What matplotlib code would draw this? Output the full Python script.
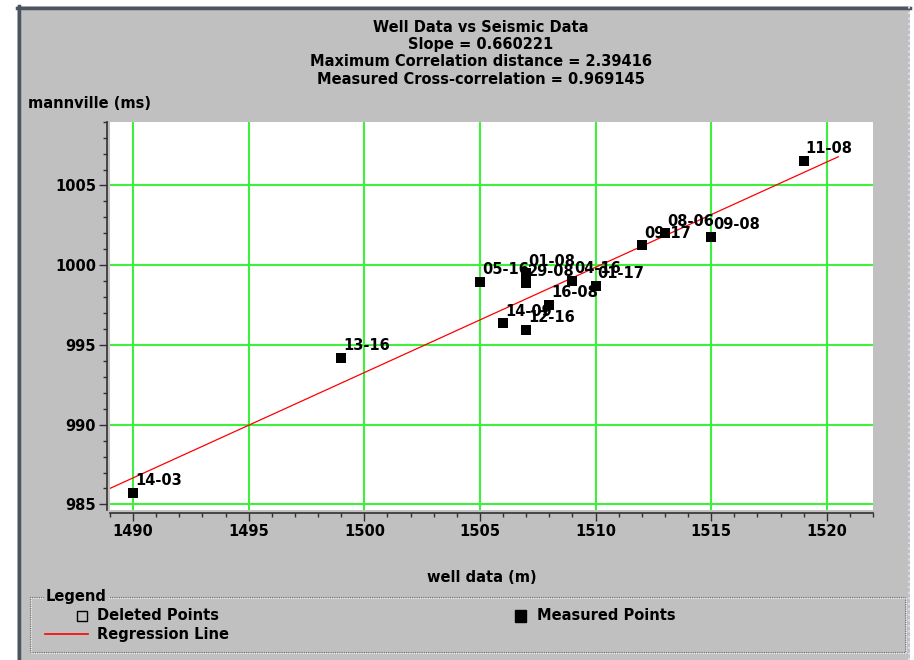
import matplotlib
matplotlib.use("Agg")
import matplotlib.pyplot as plt
from matplotlib.patches import Rectangle
from matplotlib.lines import Line2D
from matplotlib.ticker import MultipleLocator
import numpy as np

W, H = 914, 660

# well picks: depth (m) vs seismic time (ms)
well_names = ["14-03", "13-16", "05-16", "01-08", "29-08", "04-16", "01-17",
              "16-08", "14-09", "12-16", "09-17", "08-06", "09-08", "11-08"]
well_depth = [1490, 1499, 1505, 1507, 1507, 1509, 1510,
              1508, 1506, 1507, 1512, 1513, 1515, 1519]
seismic_ms = [985.73, 994.20, 998.96, 999.50, 998.88, 999.02, 998.71,
              997.52, 996.36, 995.94, 1001.25, 1002.00, 1001.77, 1006.56]

slope = 0.660221
max_corr_dist = 2.39416
cross_corr = 0.969145

GRAY = "#c0c0c0"
GREEN = "#3cf03c"
FONT = "DejaVu Sans"


def fx(x):
    return x / W


def fy(y):
    return 1 - y / H


fig = plt.figure(figsize=(W / 100, H / 100), dpi=100, facecolor="white")

# window panel with bevelled edges
fig.patches.append(Rectangle((fx(17), 0), fx(910) - fx(17), fy(6),
                             transform=fig.transFigure, facecolor=GRAY,
                             edgecolor="none", zorder=-10))
fig.add_artist(Line2D([fx(18.5), fx(18.5)], [0, fy(6)], color="#4a5560", lw=2.5))
fig.add_artist(Line2D([fx(17), fx(910)], [fy(7.5), fy(7.5)], color="#4a5560", lw=2.5))
fig.add_artist(Line2D([fx(909), fx(909)], [0, fy(6)], color="#dcdcf0", lw=1.5, ls=":"))

ax = fig.add_axes([fx(110), fy(510), fx(873) - fx(110), fy(121.7) - fy(510)])
ax.set_facecolor("white")
ax.set_xlim(1489, 1522)
ax.set_ylim(984.65, 1009)

ax.xaxis.set_major_locator(MultipleLocator(5))
ax.xaxis.set_minor_locator(MultipleLocator(1))
ax.yaxis.set_major_locator(MultipleLocator(5))
ax.yaxis.set_minor_locator(MultipleLocator(1))
ax.grid(True, which="major", color=GREEN, lw=1.5, zorder=0)
ax.set_axisbelow(True)

for side in ["top", "right"]:
    ax.spines[side].set_visible(False)
for side in ["left", "bottom"]:
    ax.spines[side].set_position(("outward", 2))
    ax.spines[side].set_color("#303030")
    ax.spines[side].set_linewidth(1.2)

ax.tick_params(which="major", length=6, width=1, color="#303030", pad=2,
               labelsize=10.5)
ax.tick_params(which="minor", length=3, width=1, color="#303030")
for lab in ax.get_xticklabels() + ax.get_yticklabels():
    lab.set_fontweight("bold")
    lab.set_family(FONT)

# regression line through the data centroid
xs = np.array(well_depth, dtype=float)
ys = np.array(seismic_ms)
intercept = ys.mean() - slope * xs.mean()
line_x = np.array([xs.min() - 1.5, xs.max() + 1.5])
ax.plot(line_x, slope * line_x + intercept, color="red", lw=0.9, zorder=3)

ax.scatter(xs, ys, marker="s", s=45, color="black", zorder=4, linewidths=0)
for name, x, y in zip(well_names, xs, ys):
    ax.annotate(name, (x, y), xytext=(2, 12), textcoords="offset pixels",
                ha="left", va="center", fontsize=10.5, fontweight="bold",
                family=FONT, zorder=5)

# titles and axis labels
title_lines = [
    "Well Data vs Seismic Data",
    f"Slope = {slope}",
    f"Maximum Correlation distance = {max_corr_dist}",
    f"Measured Cross-correlation = {cross_corr}",
]
for i, t in enumerate(title_lines):
    fig.text(fx(481), fy(28 + 17 * i), t, ha="center", va="center",
             fontsize=10.5, fontweight="bold", family=FONT)

fig.text(fx(28), fy(104), "mannville (ms)", ha="left", va="center",
         fontsize=10.5, fontweight="bold", family=FONT)
fig.text(fx(482), fy(577), "well data (m)", ha="center", va="center",
         fontsize=10.5, fontweight="bold", family=FONT)

# legend group box, etched outline with the caption sitting on its top edge
box_l, box_r, box_t, box_b = 30, 905, 597, 652
for off, col in [(0, "#707070"), (1, "#f0f0f0")]:
    fig.patches.append(Rectangle((fx(box_l + off), fy(box_b + off)),
                                 fx(box_r) - fx(box_l), fy(box_t) - fy(box_b),
                                 transform=fig.transFigure, facecolor="none",
                                 edgecolor=col, lw=0.8, ls=(0, (1, 1)), zorder=1))
fig.text(fx(46), fy(597), "Legend", ha="left", va="center", fontsize=10.5,
         fontweight="bold", family=FONT,
         bbox=dict(facecolor=GRAY, edgecolor="none", pad=1.5), zorder=2)
fig.patches.append(Rectangle((fx(77), fy(621)), fx(87) - fx(77), fy(611) - fy(621),
                             transform=fig.transFigure, facecolor="none",
                             edgecolor="black", lw=1))
fig.text(fx(97), fy(616), "Deleted Points", ha="left", va="center",
         fontsize=10.5, fontweight="bold", family=FONT)
fig.patches.append(Rectangle((fx(515), fy(622)), fx(526) - fx(515), fy(610) - fy(622),
                             transform=fig.transFigure, facecolor="black",
                             edgecolor="black", lw=1))
fig.text(fx(537), fy(616), "Measured Points", ha="left", va="center",
         fontsize=10.5, fontweight="bold", family=FONT)
fig.add_artist(Line2D([fx(45), fx(88)], [fy(634), fy(634)], color="red", lw=1.2))
fig.text(fx(97), fy(634), "Regression Line", ha="left", va="center",
         fontsize=10.5, fontweight="bold", family=FONT)

fig.savefig("out.png", dpi=100, facecolor="white")
